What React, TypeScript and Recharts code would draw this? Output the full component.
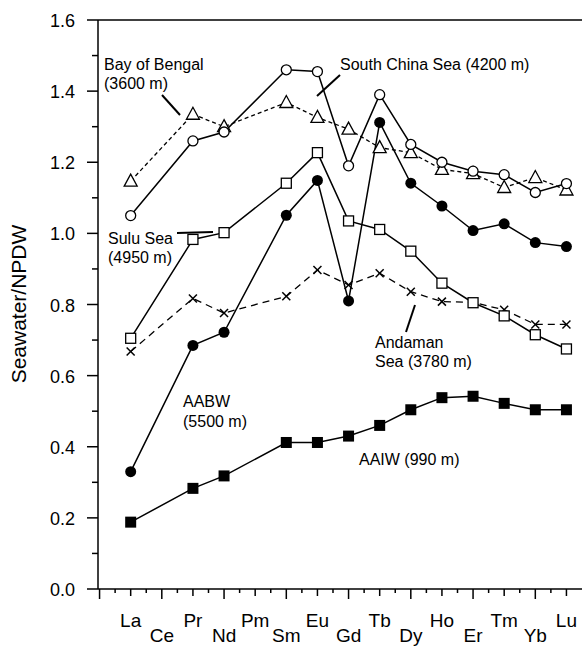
import { LineChart, Line, XAxis, YAxis, ReferenceLine } from 'recharts'

const elements = ['La', 'Ce', 'Pr', 'Nd', 'Pm', 'Sm', 'Eu', 'Gd', 'Tb', 'Dy', 'Ho', 'Er', 'Tm', 'Yb', 'Lu']
const measured = ['La', 'Pr', 'Nd', 'Sm', 'Eu', 'Gd', 'Tb', 'Dy', 'Ho', 'Er', 'Tm', 'Yb', 'Lu']

const southChinaSea = [1.05, 1.26, 1.285, 1.46, 1.455, 1.19, 1.39, 1.25, 1.2, 1.175, 1.165, 1.115, 1.14]
const bayOfBengal = [1.147, 1.335, 1.3, 1.368, 1.326, 1.293, 1.241, 1.227, 1.18, 1.168, 1.129, 1.157, 1.122]
const suluSea = [0.705, 0.983, 1.002, 1.141, 1.227, 1.035, 1.011, 0.95, 0.86, 0.805, 0.768, 0.715, 0.675]
const aabw = [0.33, 0.685, 0.722, 1.051, 1.149, 0.81, 1.312, 1.141, 1.077, 1.008, 1.027, 0.974, 0.963]
const andamanSea = [0.668, 0.817, 0.776, 0.823, 0.897, 0.855, 0.888, 0.836, 0.808, 0.806, 0.785, 0.744, 0.744]
const aaiw = [0.188, 0.283, 0.318, 0.412, 0.412, 0.43, 0.46, 0.504, 0.538, 0.542, 0.522, 0.504, 0.504]

const xTicks = Array.from({ length: 31 }, (_, i) => -1 + i * 0.5)
const yTicks = Array.from({ length: 17 }, (_, i) => Math.round(i) / 10)

const toPoints = (values: number[]) =>
	measured.map((el, i) => ({ x: elements.indexOf(el), y: values[i] }))

const FONT = 'Arial, "Liberation Sans", Helvetica, sans-serif'

const XTick = (props: any) => {
	const { x, y, payload } = props
	const v = payload.value as number
	const isInt = Math.abs(v - Math.round(v)) < 0.01
	const n = Math.round(v)
	let len = 4
	if (isInt) len = Math.abs(n) % 2 === 1 ? 10 : 7
	const label = isInt && n >= 0 ? elements[n] : null
	return (
		<g>
			<line x1={x} x2={x} y1={y} y2={y + len} stroke='#000' strokeWidth={1.5} />
			{label && (
				<text
					x={x}
					y={y + (n % 2 === 0 ? 38 : 53)}
					textAnchor='middle'
					fontSize={19}
					fontFamily={FONT}
					fill='#000'
				>
					{label}
				</text>
			)}
		</g>
	)
}

const YTick = (props: any) => {
	const { x, y, payload } = props
	const v = payload.value as number
	const major = Math.round(v * 10) % 2 === 0
	return (
		<g>
			<line x1={x} x2={x - (major ? 11 : 6)} y1={y} y2={y} stroke='#000' strokeWidth={1.5} />
			{major && (
				<text x={x - 23} y={y + 7} textAnchor='end' fontSize={18} fontFamily={FONT} fill='#000'>
					{v.toFixed(1)}
				</text>
			)}
		</g>
	)
}

const openCircle = (p: any) => (
	<circle key={p.index} cx={p.cx} cy={p.cy} r={5} fill='#fff' stroke='#000' strokeWidth={1.3} />
)
const filledCircle = (p: any) => <circle key={p.index} cx={p.cx} cy={p.cy} r={5.5} fill='#000' />
const openSquare = (p: any) => (
	<rect key={p.index} x={p.cx - 5} y={p.cy - 5} width={10} height={10} fill='#fff' stroke='#000' strokeWidth={1.3} />
)
const filledSquare = (p: any) => (
	<rect key={p.index} x={p.cx - 5.5} y={p.cy - 5.5} width={11} height={11} fill='#000' />
)
const triangle = (p: any) => (
	<polygon
		key={p.index}
		points={`${p.cx},${p.cy - 7} ${p.cx - 6.5},${p.cy + 5} ${p.cx + 6.5},${p.cy + 5}`}
		fill='#fff'
		stroke='#000'
		strokeWidth={1.3}
	/>
)
const cross = (p: any) => (
	<g key={p.index}>
		<line x1={p.cx - 4} y1={p.cy - 4} x2={p.cx + 4} y2={p.cy + 4} stroke='#000' strokeWidth={1.5} />
		<line x1={p.cx - 4} y1={p.cy + 4} x2={p.cx + 4} y2={p.cy - 4} stroke='#000' strokeWidth={1.5} />
	</g>
)

const annoText = { fontSize: 16, fontFamily: FONT, fill: '#000' }

export default function App() {
	return (
		<div style={{ position: 'absolute', left: 0, top: 0, width: 582, height: 646, background: '#fff' }}>
			<LineChart width={582} height={646} margin={{ top: 20, right: 0, bottom: 0, left: 0 }}>
				<XAxis
					type='number'
					dataKey='x'
					domain={[-1.05, 14.5]}
					ticks={xTicks}
					interval={0}
					tick={XTick}
					tickLine={false}
					tickSize={0}
					tickMargin={0}
					height={57}
					axisLine={{ stroke: '#000', strokeWidth: 1.5 }}
					allowDataOverflow
				/>
				<YAxis
					type='number'
					domain={[0, 1.6]}
					ticks={yTicks}
					interval={0}
					tick={YTick}
					tickLine={false}
					tickSize={0}
					tickMargin={0}
					width={98}
					axisLine={{ stroke: '#000', strokeWidth: 1.5 }}
				/>
				<ReferenceLine y={1.6} stroke='#000' strokeWidth={1.5} />
				<Line data={toPoints(aaiw)} dataKey='y' stroke='#000' strokeWidth={1.5} dot={filledSquare} isAnimationActive={false} />
				<Line data={toPoints(andamanSea)} dataKey='y' stroke='#000' strokeWidth={1.3} strokeDasharray='7 5' dot={cross} isAnimationActive={false} />
				<Line data={toPoints(aabw)} dataKey='y' stroke='#000' strokeWidth={1.5} dot={filledCircle} isAnimationActive={false} />
				<Line data={toPoints(suluSea)} dataKey='y' stroke='#000' strokeWidth={1.5} dot={openSquare} isAnimationActive={false} />
				<Line data={toPoints(bayOfBengal)} dataKey='y' stroke='#000' strokeWidth={1.3} strokeDasharray='4 3' dot={triangle} isAnimationActive={false} />
				<Line data={toPoints(southChinaSea)} dataKey='y' stroke='#000' strokeWidth={1.5} dot={openCircle} isAnimationActive={false} />
			</LineChart>
			<svg width={582} height={646} style={{ position: 'absolute', left: 0, top: 0, pointerEvents: 'none' }}>
				<text x={18} y={304} transform='rotate(-90 18 304)' textAnchor='middle' dominantBaseline='central' fontSize={21} fontFamily={FONT}>
					Seawater/NPDW
				</text>
				<text x={104} y={70} {...annoText}>Bay of Bengal</text>
				<text x={104} y={89} {...annoText}>(3600 m)</text>
				<line x1={162} y1={95} x2={180} y2={115} stroke='#000' strokeWidth={2} />
				<text x={340} y={70} {...annoText}>South China Sea (4200 m)</text>
				<line x1={340} y1={75} x2={317} y2={96} stroke='#000' strokeWidth={2} />
				<text x={108} y={244} {...annoText}>Sulu Sea</text>
				<text x={108} y={263} {...annoText}>(4950 m)</text>
				<line x1={177} y1={233} x2={213} y2={232} stroke='#000' strokeWidth={2} />
				<text x={375} y={348} {...annoText}>Andaman</text>
				<text x={375} y={367} {...annoText}>Sea (3780 m)</text>
				<line x1={415} y1={305} x2={406} y2={332} stroke='#000' strokeWidth={2} />
				<text x={183} y={407} {...annoText}>AABW</text>
				<text x={183} y={427} {...annoText}>(5500 m)</text>
				<text x={359} y={465} {...annoText}>AAIW (990 m)</text>
			</svg>
		</div>
	)
}
